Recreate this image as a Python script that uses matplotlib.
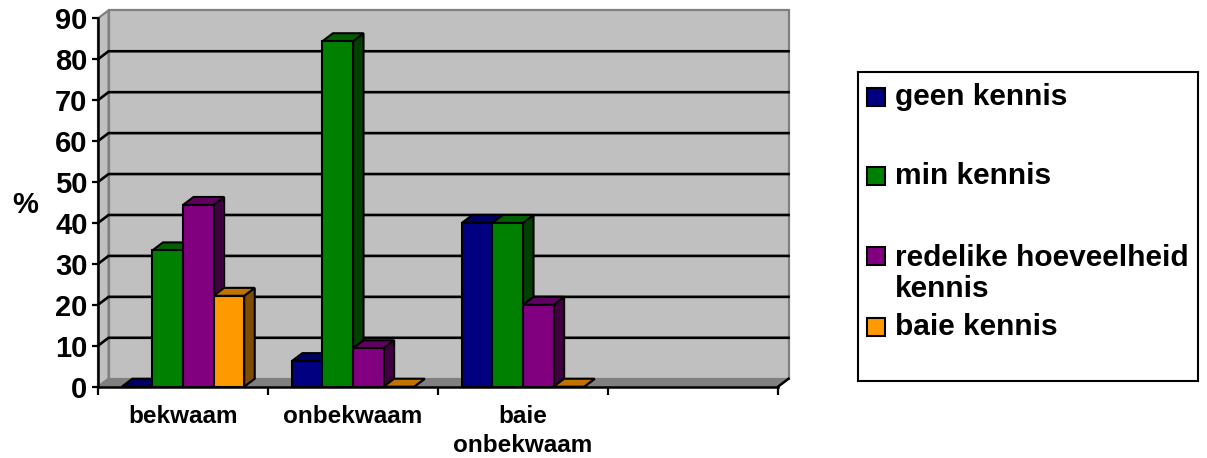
import numpy as np
import matplotlib.pyplot as plt
from matplotlib.patches import Polygon, Rectangle

plt.rcParams['font.family'] = ['Liberation Sans', 'DejaVu Sans']
plt.rcParams['font.weight'] = 'bold'

# Percentages per competence group
categories = ['bekwaam', 'onbekwaam', 'baie\nonbekwaam']
series = ['geen kennis', 'min kennis', 'redelike hoeveelheid\nkennis', 'baie kennis']
geen_kennis = [0, 6.25, 40]
min_kennis = [33.3, 84.4, 40]
redelike_kennis = [44.4, 9.4, 20]
baie_kennis = [22.2, 0, 0]
values = [geen_kennis, min_kennis, redelike_kennis, baie_kennis]

front_colors = ['#000080', '#008000', '#800080', '#FF9900']
top_colors = ['#000060', '#006000', '#600060', '#C07300']
side_colors = ['#000040', '#004000', '#400040', '#804C00']

W, H = 1207, 458
fig = plt.figure(figsize=(W / 100, H / 100), dpi=100)
ax = fig.add_axes([98 / W, (H - 386.7) / H, 680 / W, 368.4 / H])
ax.patch.set_visible(False)

n_slots = 4
x0, x1 = -0.5, n_slots - 0.5
ax.set_xlim(x0, x1)
ax.set_ylim(0, 90)

dx, dy = 0.062, 1.95  # depth of the 3-D box in data units
wall, edge = '#C0C0C0', '#808080'

# back wall, side wall and floor
ax.add_patch(Polygon([(x0 + dx, dy), (x1 + dx, dy), (x1 + dx, 90 + dy), (x0 + dx, 90 + dy)],
                     fc=wall, ec=edge, lw=1.6, clip_on=False, zorder=0))
ax.add_patch(Polygon([(x0, 0), (x0, 90), (x0 + dx, 90 + dy), (x0 + dx, dy)],
                     fc=wall, ec=edge, lw=1.6, clip_on=False, zorder=0))
ax.add_patch(Polygon([(x0, 0), (x1, 0), (x1 + dx, dy), (x0 + dx, dy)],
                     fc=edge, ec=edge, lw=1, clip_on=False, zorder=0.5))
ax.plot([x1, x1 + dx], [0, dy], color='black', lw=1.8, clip_on=False, zorder=0.6)

for v in range(10, 90, 10):
    ax.plot([x0, x0 + dx, x1 + dx], [v, v + dy, v + dy], color='black', lw=1.9,
            clip_on=False, zorder=1)

# 3-D columns: side and top faces, then the front face
w = 0.18
x = np.arange(len(categories))
for i, vals in enumerate(values):
    xs = x + (i - 1.5) * w
    z = 2 + i
    for xc, v in zip(xs, vals):
        l, r = xc - w / 2, xc + w / 2
        ax.add_patch(Polygon([(r, 0), (r, v), (r + dx, v + dy), (r + dx, dy)],
                             fc=side_colors[i], ec='black', lw=1.5, zorder=z))
        ax.add_patch(Polygon([(l, v), (r, v), (r + dx, v + dy), (l + dx, v + dy)],
                             fc=top_colors[i], ec='black', lw=1.5, zorder=z))
    ax.bar(xs, vals, width=w, color=front_colors[i], edgecolor='black', lw=1.5,
           zorder=z + 0.5)

for s in ['top', 'right']:
    ax.spines[s].set_visible(False)
for s in ['left', 'bottom']:
    ax.spines[s].set_linewidth(1.8)
    ax.spines[s].set_zorder(10)

ax.set_yticks(range(0, 91, 10))
ax.tick_params(axis='y', length=4.5, width=1.6, labelsize=21, pad=3)
ax.set_xticks(np.arange(x0, x1 + 0.01, 1))
ax.set_xticklabels([])
ax.tick_params(axis='x', which='major', length=6, width=1.6)
ax.set_xticks(x, minor=True)
ax.set_xticklabels(categories, minor=True, fontsize=17.5)
ax.tick_params(axis='x', which='minor', length=0, pad=13)
for lbl in ax.get_xticklabels(minor=True):
    lbl.set_linespacing(1.35)

fig.text(25 / W, 1 - 205 / H, '%', fontsize=21, ha='center', va='center')

# legend box
lax = fig.add_axes([858 / W, (H - 381) / H, 340 / W, 309 / H])
lax.set_xlim(0, 340)
lax.set_ylim(309, 0)
lax.set_xticks([])
lax.set_yticks([])
for s in lax.spines.values():
    s.set_linewidth(1.5)
rows = [25, 104, 184, 255]
line_h = 35
for name, color, row in zip(series, front_colors, rows):
    lax.add_patch(Rectangle((9, row - 9), 18, 18, fc=color, ec='black', lw=1.5))
    n_lines = name.count('\n') + 1
    lax.text(37, row + (n_lines - 1) * line_h / 2, name, fontsize=21.5, va='center',
             ha='left', linespacing=1.15)

fig.savefig('out.png', dpi=100)
